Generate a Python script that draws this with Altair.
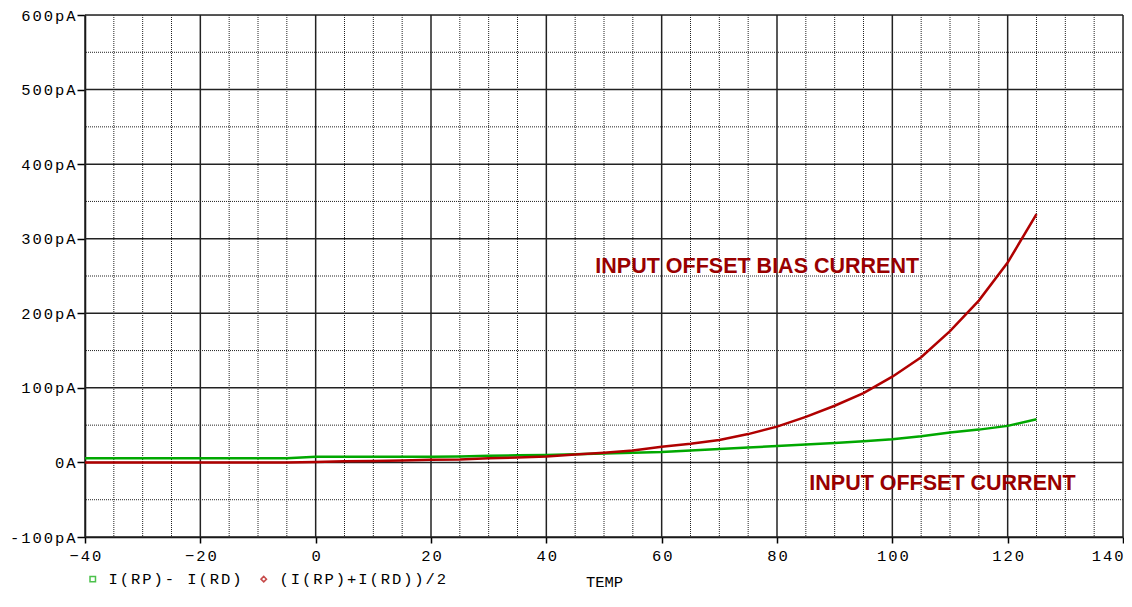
import altair as alt
import pandas as pd

temps = list(range(-40, 130, 5))
bias_pA = [0, 0, 0, 0, 0, 0, 0, 0,
           0.5, 1.5, 2, 2.5, 3.5, 4, 5.5, 6.5, 8, 10.5, 13, 16, 21, 25, 30, 38,
           48, 61, 76, 93, 115, 141, 176, 217, 268, 333]
offset_pA = [5.5, 5.5, 5.5, 5.5, 5.5, 5.5, 5.5, 5.5,
             7.5, 7.5, 7.5, 7.5, 7.5, 8, 9, 9.5, 10, 11, 12, 13, 14, 16, 18, 20,
             22, 24, 26, 28.5, 31, 35, 40, 44, 49, 58]

series_names = ["I(RP)- I(RD)", "(I(RP)+I(RD))/2"]
series_colors = ["#00A800", "#B00000"]
series_shapes = ["square", "diamond"]

x_major = list(range(-40, 141, 20))
x_minor = [v for v in range(-40, 141, 5) if v % 20 != 0]
y_major = list(range(-100, 601, 100))
y_minor = [v for v in range(-50, 600, 100)]

annot_text = ["INPUT OFFSET BIAS CURRENT", "INPUT OFFSET CURRENT"]
annot_x = [48.5, 85.6]
annot_y = [262, -29]

FONT = "Liberation Mono"
FS = 15.5
SP = "\u200a\u200a"

df = pd.DataFrame({"temp": temps, "bias": bias_pA, "offset": offset_pA})
long = pd.concat([
    pd.DataFrame({"temp": temps, "val": offset_pA, "series": series_names[0]}),
    pd.DataFrame({"temp": temps, "val": bias_pA, "series": series_names[1]}),
])

xs = alt.Scale(domain=[-40, 140], nice=False, zero=False)
ys = alt.Scale(domain=[-100, 600], nice=False, zero=False)

spaced = "join(split(%s, ''), '" + SP + "')"

x_axis = alt.Axis(values=x_major, grid=False, title="TEMP",
                  labelExpr=spaced % "datum.label",
                  labelFlush=False,
                  labelAlign=alt.ExprRef("datum.value == 140 ? 'right' : 'center'"),
                  labelFont=FONT, labelFontSize=FS, labelColor="black",
                  labelPadding=5, tickSize=6, tickColor="black", tickWidth=1.5,
                  domainColor="black", domainWidth=1.5,
                  titleFont=FONT, titleFontSize=FS,
                  titleFontWeight="normal", titleColor="black", titlePadding=11)
y_axis = alt.Axis(values=y_major, grid=False, title=None,
                  labelExpr=spaced % "(datum.value == 0 ? '0A' : datum.value + 'pA')",
                  labelFlush=False,
                  labelFont=FONT, labelFontSize=FS, labelColor="black",
                  labelPadding=2, tickSize=8, tickColor="black", tickWidth=1.5,
                  domainColor="black", domainWidth=1.5)

minor_x = alt.Chart(pd.DataFrame({"v": x_minor})).mark_rule(
    color="#222222", strokeDash=[1, 1], strokeWidth=1
).encode(x=alt.X("v:Q", scale=xs, axis=x_axis))
minor_y = alt.Chart(pd.DataFrame({"v": y_minor})).mark_rule(
    color="#222222", strokeDash=[1, 1], strokeWidth=1
).encode(y=alt.Y("v:Q", scale=ys, axis=y_axis))
major_x = alt.Chart(pd.DataFrame({"v": x_major})).mark_rule(
    color="#222222", strokeWidth=1.5
).encode(x=alt.X("v:Q", scale=xs))
major_y = alt.Chart(pd.DataFrame({"v": y_major})).mark_rule(
    color="#222222", strokeWidth=1.5
).encode(y=alt.Y("v:Q", scale=ys))

base = alt.Chart(df)
line_offset = base.mark_line(color=series_colors[0], strokeWidth=2.5).encode(
    x=alt.X("temp:Q", scale=xs),
    y=alt.Y("offset:Q", scale=ys),
)
line_bias = base.mark_line(color=series_colors[1], strokeWidth=2.5).encode(
    x=alt.X("temp:Q", scale=xs),
    y=alt.Y("bias:Q", scale=ys),
)

legend_layer = alt.Chart(long).transform_filter("false").mark_point(
    filled=False, size=30, strokeWidth=1.5
).encode(
    x=alt.X("temp:Q", scale=xs),
    y=alt.Y("val:Q", scale=ys),
    color=alt.Color("series:N", scale=alt.Scale(domain=series_names, range=series_colors),
                    legend=alt.Legend(orient="none", legendX=0, legendY=556,
                                      direction="horizontal",
                                      title=None, labelFont=FONT, labelFontSize=FS,
                                      labelColor="black", symbolSize=30, symbolStrokeWidth=1.5,
                                      columnPadding=14, labelOffset=8, labelLimit=400,
                                      labelExpr=spaced % "datum.label")),
    shape=alt.Shape("series:N", scale=alt.Scale(domain=series_names, range=series_shapes)),
)

annot = alt.Chart(pd.DataFrame({"t": annot_text, "x": annot_x, "y": annot_y})).mark_text(
    align="left", baseline="middle", font="Liberation Sans", fontWeight="bold",
    fontSize=21.5, color="#990000"
).encode(x=alt.X("x:Q", scale=xs), y=alt.Y("y:Q", scale=ys), text="t:N")

chart = alt.layer(minor_x, minor_y, major_x, major_y, line_offset, line_bias,
                  legend_layer, annot).properties(
    width=1038, height=522,
    autosize=alt.AutoSizeParams(type="none"),
    padding={"left": 77, "top": 7, "right": 1, "bottom": 56},
).configure_view(stroke=None).configure(background="white")

chart.save("out.html", embed_options={"renderer": "svg", "actions": False})
